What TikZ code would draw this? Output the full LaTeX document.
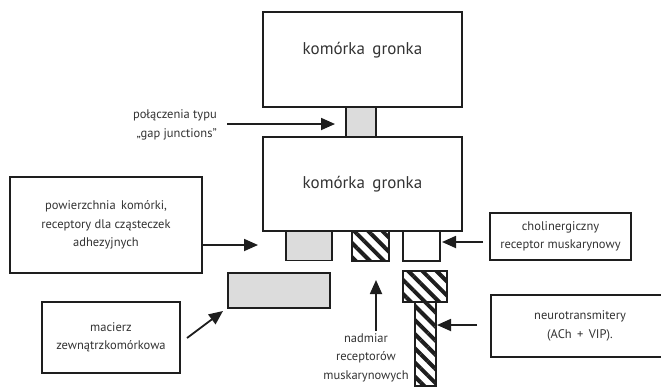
\documentclass[tikz,border=0pt]{standalone}
\usepackage{fontspec}
\setmainfont{PT Sans}
\usetikzlibrary{arrows.meta,patterns.meta}
\definecolor{ink}{HTML}{1E1E1E}
\definecolor{txt}{HTML}{333333}
\definecolor{lgray}{HTML}{DCDCDC}
\tikzset{
  x=1pt,y=-1pt,
  cellbox/.style={draw=ink,line width=1.8pt,fill=white,inner sep=0pt,outer sep=0pt,text=txt,font=\fontsize{17}{20}\selectfont},
  labelbox/.style={draw=ink,line width=1.8pt,fill=white,inner sep=0pt,outer sep=0pt,text=txt,align=center,font=\fontsize{12.5}{18.5}\selectfont},
  graybox/.style={draw=ink,line width=1.8pt,fill=lgray,inner sep=0pt,outer sep=0pt},
  whitebox/.style={draw=ink,line width=1.8pt,fill=white,inner sep=0pt,outer sep=0pt},
  hatchbox/.style={draw=ink,line width=1.8pt,fill=white,inner sep=0pt,outer sep=0pt,
     postaction={pattern={Lines[angle=-45,distance=10pt,line width=4pt]},pattern color=ink}},
  plaintext/.style={text=txt,align=center,inner sep=0pt,font=\fontsize{12.5}{18.5}\selectfont},
  arr/.style={draw=ink,line width=1.8pt,-{Triangle[length=14pt,width=12pt]}},
}
\begin{document}
\begin{tikzpicture}
\clip (0,0) rectangle (661,386);
\fill[white] (0,0) rectangle (661,386);
% cells
\node[cellbox,minimum width=199pt,minimum height=95pt] (top) at (362.5,59.5) {};
\node[text=txt,font=\fontsize{17}{20}\selectfont] (toptext) at (362.5,50) {komórka\, gronka};
\node[cellbox,minimum width=199pt,minimum height=94pt] (mid) at (362.5,184) {komórka\, gronka};
\node[graybox,minimum width=30pt,minimum height=30pt] (gap) at (361,122) {};
% membrane elements
\node[graybox,minimum width=46pt,minimum height=29pt] (gsmall) at (309,246) {};
\node[hatchbox,minimum width=37pt,minimum height=30pt] (hsmall) at (370.5,246) {};
\node[whitebox,minimum width=37pt,minimum height=30pt] (wsmall) at (421.5,246) {};
\node[graybox,minimum width=102pt,minimum height=35pt] (glow) at (279,290.5) {};
\node[hatchbox,minimum width=21pt,minimum height=84pt] (hstem) at (425.5,344) {};
\node[hatchbox,minimum width=44pt,minimum height=31pt] (htop) at (425,286.5) {};
% label boxes
\node[labelbox,minimum width=192pt,minimum height=96pt] (pow) at (106,225) {powierzchnia\, komórki,\\receptory dla cząsteczek\\adhezyjnych};
\node[labelbox,minimum width=138pt,minimum height=71pt] (mac) at (111,337.5) {macierz\\zewnątrzkomórkowa};
\node[labelbox,minimum width=141pt,minimum height=47pt] (chol) at (560.5,236.5) {cholinergiczny\\receptor muskarynowy};
\node[labelbox,minimum width=178pt,minimum height=62pt] (neuro) at (580,326) {neurotransmitery\\(ACh\, +\, VIP).};
% free labels
\node[plaintext,align=right,anchor=east] (gaplabel) at (217,125) {połączenia typu\\„gap junctions''};
\node[plaintext,anchor=north] (nadm) at (366,333) {nadmiar\\receptorów\\muskarynowych};
% arrows
\coordinate (gapA) at (227,124);
\draw[arr,shorten >=11pt] (gapA) -- (gap.west |- gapA);
\coordinate (powA) at (202,245);
\draw[arr,shorten >=28pt] (powA) -- (gsmall.west |- powA);
\coordinate (macA) at (187,338);
\coordinate (macB) at (223,311);
\draw[arr] (macA) -- (macB);
\coordinate (upA) at (376,331);
\draw[arr,shorten >=19pt] (upA) -- (upA |- hsmall.south);
\coordinate (cholA) at (483,242);
\draw[arr,shorten >=2pt] (cholA) -- (wsmall.east |- cholA);
\coordinate (neuroA) at (477,325);
\draw[arr,shorten >=1pt] (neuroA) -- (hstem.east |- neuroA);
\end{tikzpicture}
\end{document}
